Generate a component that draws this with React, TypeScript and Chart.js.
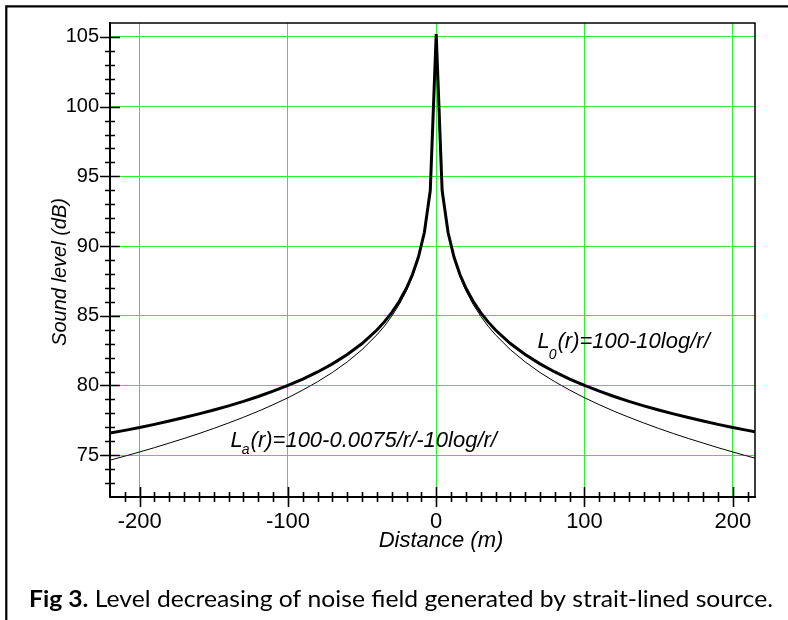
import React, { useEffect, useRef } from "react";
import { Chart, registerables } from "chart.js";

Chart.register(...registerables);

// ---- data ----
const distances = [
  -220, -210, -200, -190, -180, -170, -160, -150, -140, -130, -120, -110, -100,
  -90, -80, -70, -60, -50, -40, -35, -30, -25, -20, -16, -12, -8, -4, 0,
  4, 8, 12, 16, 20, 25, 30, 35, 40, 50, 60, 70, 80, 90, 100,
  110, 120, 130, 140, 150, 160, 170, 180, 190, 200, 210, 215,
];
// L0(r) – thick curve
const levelL0 = [
  76.58, 76.78, 76.99, 77.21, 77.45, 77.7, 77.96, 78.24, 78.54, 78.86, 79.21, 79.59, 80.0,
  80.46, 80.97, 81.55, 82.22, 83.01, 83.98, 84.56, 85.23, 86.02, 86.99, 87.96, 89.21, 90.97, 93.98, 105.2,
  93.98, 90.97, 89.21, 87.96, 86.99, 86.02, 85.23, 84.56, 83.98, 83.01, 82.22, 81.55, 80.97, 80.46, 80.0,
  79.59, 79.21, 78.86, 78.54, 78.24, 77.96, 77.7, 77.45, 77.21, 76.99, 76.78, 76.68,
];
// La(r) – thin curve
const levelLa = [
  74.64, 74.93, 75.23, 75.54, 75.87, 76.2, 76.55, 76.92, 77.31, 77.72, 78.15, 78.62, 79.12,
  79.67, 80.27, 80.93, 81.69, 82.57, 83.63, 84.25, 84.97, 85.8, 86.81, 87.82, 89.1, 90.9, 93.94, 105.2,
  93.94, 90.9, 89.1, 87.82, 86.81, 85.8, 84.97, 84.25, 83.63, 82.57, 81.69, 80.93, 80.27, 79.67, 79.12,
  78.62, 78.15, 77.72, 77.31, 76.92, 76.55, 76.2, 75.87, 75.54, 75.23, 74.93, 74.79,
];
const xTicks = [-200, -100, 0, 100, 200];
const yTicks = [75, 80, 85, 90, 95, 100, 105];
const xMinorStep = 10;
const yMinorStep = 1;
const xRange = [-220, 215];
const yRange = [72, 106];

const xTitle = "Distance (m)";
const yTitle = "Sound level (dB)";
const labelL0 = { sub: "0", rest: "(r)=100-10log/r/", x: 68.3, y: 82.69 };
const labelLa = { sub: "a", rest: "(r)=100-0.0075/r/-10log/r/", x: -138.7, y: 75.6 };
const captionBold = "Fig 3.";
const captionRest = " Level decreasing of noise field generated by strait-lined source.";

const SANS = '"Liberation Sans", Arial, sans-serif';
const CAPTION_FONT = 'Lato, "Open Sans", sans-serif';
const GRID = "#2ef02e";

const decor = {
  id: "decor",
  afterDraw(chart: any) {
    const { ctx, chartArea: a, scales } = chart;
    const xs = scales.x;
    const ys = scales.y;
    ctx.save();
    // plot frame top & right
    ctx.strokeStyle = "#000";
    ctx.lineWidth = 1.5;
    ctx.beginPath();
    ctx.moveTo(a.left, a.top);
    ctx.lineTo(a.right, a.top);
    ctx.lineTo(a.right, a.bottom);
    ctx.stroke();

    // tick marks crossing the axes
    ctx.lineWidth = 1.6;
    ctx.beginPath();
    for (let v = Math.ceil(xRange[0] / xMinorStep) * xMinorStep; v <= xRange[1]; v += xMinorStep) {
      if (v === xRange[0]) continue;
      const px = Math.round(xs.getPixelForValue(v)) + 0.5;
      const major = xTicks.includes(v);
      const h = major ? 10 : 5;
      ctx.moveTo(px, a.bottom - h);
      ctx.lineTo(px, a.bottom + h);
    }
    for (let v = yRange[0] + yMinorStep; v < yRange[1]; v += yMinorStep) {
      const py = Math.round(ys.getPixelForValue(v)) + 0.5;
      const major = yTicks.includes(v);
      const w = major ? 10 : 5;
      ctx.moveTo(a.left - w, py);
      ctx.lineTo(a.left + w, py);
    }
    ctx.stroke();

    // axis titles
    ctx.fillStyle = "#000";
    ctx.font = `italic 22px ${SANS}`;
    ctx.textAlign = "center";
    ctx.textBaseline = "alphabetic";
    ctx.fillText(xTitle, 441, 547);
    ctx.save();
    ctx.translate(66, 272);
    ctx.rotate(-Math.PI / 2);
    ctx.font = `italic 20px ${SANS}`;
    ctx.fillText(yTitle, 0, 0);
    ctx.restore();

    // curve labels
    const drawLabel = (lab: any, subDrop: number) => {
      let x0 = xs.getPixelForValue(lab.x);
      const y0 = ys.getPixelForValue(lab.y);
      ctx.textAlign = "left";
      ctx.font = `italic 22px ${SANS}`;
      ctx.fillText("L", x0, y0);
      x0 += ctx.measureText("L").width;
      ctx.font = `italic 14px ${SANS}`;
      ctx.fillText(lab.sub, x0 - 1, y0 + subDrop);
      x0 += ctx.measureText(lab.sub).width;
      ctx.font = `italic 22px ${SANS}`;
      ctx.fillText(lab.rest, x0, y0);
    };
    drawLabel(labelL0, 11);
    drawLabel(labelLa, 7);

    // caption, fitted to the reference's span
    ctx.textAlign = "left";
    ctx.font = `bold 23px ${CAPTION_FONT}`;
    const bw = ctx.measureText(captionBold).width;
    ctx.font = `23px ${CAPTION_FONT}`;
    const rw = ctx.measureText(captionRest).width;
    const sx = 744 / (bw + rw);
    ctx.save();
    ctx.translate(29, 607);
    ctx.scale(sx, 1);
    ctx.font = `bold 23px ${CAPTION_FONT}`;
    ctx.fillText(captionBold, 0, 0);
    ctx.font = `23px ${CAPTION_FONT}`;
    ctx.fillText(captionRest, bw, 0);
    ctx.restore();

    // outer frame (top & left)
    ctx.strokeStyle = "#000";
    ctx.lineWidth = 2.2;
    ctx.beginPath();
    ctx.moveTo(6.3, 620);
    ctx.lineTo(6.3, 6.3);
    ctx.lineTo(788, 6.3);
    ctx.stroke();
    ctx.restore();
  },
};

export default function App() {
  const ref = useRef<HTMLCanvasElement | null>(null);
  useEffect(() => {
    if (!ref.current) return;
    const chart = new Chart(ref.current, {
      type: "line",
      data: {
        datasets: [
          {
            label: "L0",
            data: distances.map((d, i) => ({ x: d, y: levelL0[i] })),
            borderColor: "#000",
            borderWidth: 3,
            pointRadius: 0,
            tension: 0,
            fill: false,
          },
          {
            label: "La",
            data: distances.map((d, i) => ({ x: d, y: levelLa[i] })),
            borderColor: "#000",
            borderWidth: 1,
            pointRadius: 0,
            tension: 0,
            fill: false,
          },
        ],
      },
      options: {
        responsive: false,
        animation: false,
        events: [],
        layout: { padding: { left: 0, top: 23, right: 33, bottom: 60 } },
        plugins: { legend: { display: false }, tooltip: { enabled: false } },
        scales: {
          x: {
            type: "linear",
            min: xRange[0],
            max: xRange[1],
            afterBuildTicks: (s: any) => {
              s.ticks = xTicks.map((v) => ({ value: v }));
            },
            afterFit: (s: any) => {
              s.height = 63;
            },
            ticks: {
              color: "#000",
              font: { family: SANS, size: 22 },
              padding: 12,
              maxRotation: 0,
              autoSkip: false,
            },
            grid: { color: GRID, lineWidth: 1, drawTicks: false },
            border: { color: "#000", width: 2 },
          },
          y: {
            type: "linear",
            min: yRange[0],
            max: yRange[1],
            afterBuildTicks: (s: any) => {
              s.ticks = yTicks.map((v) => ({ value: v }));
            },
            afterFit: (s: any) => {
              s.width = 110;
            },
            ticks: {
              color: "#000",
              font: { family: SANS, size: 20 },
              padding: 11,
              autoSkip: false,
            },
            grid: { color: GRID, lineWidth: 1, drawTicks: false },
            border: { color: "#000", width: 2 },
          },
        },
      },
      plugins: [decor],
    });
    return () => chart.destroy();
  }, []);
  return (
    <div style={{ position: "absolute", left: 0, top: 0, width: 788, height: 620, background: "#fff" }}>
      <canvas ref={ref} width={788} height={620} style={{ display: "block", width: 788, height: 620 }} />
    </div>
  );
}
